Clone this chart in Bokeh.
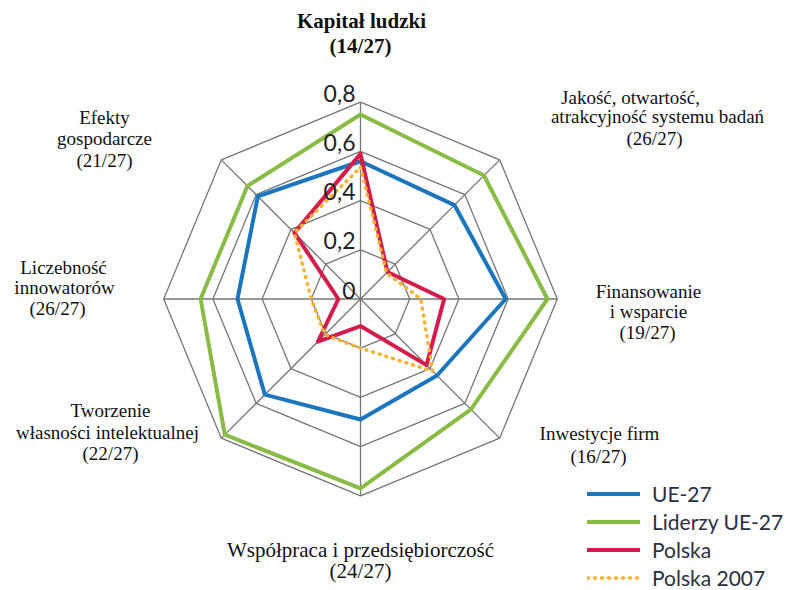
import numpy as np
from bokeh.plotting import figure
from bokeh.models import Range1d, Legend, LegendItem
from bokeh.core.properties import value
from bokeh.embed import file_html
from bokeh.resources import INLINE

# ---------------- data ----------------
categories = [
    "Kapitał ludzki (14/27)",
    "Jakość, otwartość, atrakcyjność systemu badań (26/27)",
    "Finansowanie i wsparcie (19/27)",
    "Inwestycje firm (16/27)",
    "Współpraca i przedsiębiorczość (24/27)",
    "Tworzenie własności intelektualnej (22/27)",
    "Liczebność innowatorów (26/27)",
    "Efekty gospodarcze (21/27)",
]
ue27 = [0.56, 0.54, 0.59, 0.44, 0.49, 0.55, 0.50, 0.59]
liderzy = [0.75, 0.71, 0.76, 0.635, 0.77, 0.78, 0.65, 0.65]
polska = [0.59, 0.155, 0.34, 0.38, 0.11, 0.245, 0.09, 0.38]
polska2007 = [0.535, 0.15, 0.245, 0.415, 0.20, 0.205, 0.20, 0.38]
ring_levels = [0.2, 0.4, 0.6, 0.8]
tick_labels = ["0", "0,2", "0,4", "0,6", "0,8"]
tick_values = [0.0, 0.2, 0.4, 0.6, 0.8]
series_names = ["UE-27", "Liderzy UE-27", "Polska", "Polska 2007"]

# ---------------- layout ----------------
W, H = 786, 590
CX, CY = 360.0, 298.5      # screen position of the centre
S = 246.0                  # pixels per unit

def dx(px):
    return (px - CX) / S

def dy(py):
    return (CY - py) / S

n = len(categories)
ang = np.pi / 2 - np.arange(n) * 2 * np.pi / n

def poly(vals):
    v = np.asarray(vals, dtype=float)
    xs = v * np.cos(ang)
    ys = v * np.sin(ang)
    return list(xs) + [xs[0]], list(ys) + [ys[0]]

p = figure(width=W, height=H, output_backend="svg", toolbar_location=None,
           x_range=Range1d(dx(0), dx(W)), y_range=Range1d(dy(H), dy(0)),
           min_border=0, outline_line_color=None)
p.axis.visible = False
p.xgrid.visible = False
p.ygrid.visible = False
p.background_fill_color = "white"

GRID = "#767676"
for lv in ring_levels:
    xs, ys = poly([lv] * n)
    p.line(xs, ys, line_color=GRID, line_width=1.3)
rmax = max(ring_levels)
p.segment(x0=[0] * n, y0=[0] * n, x1=list(rmax * np.cos(ang)), y1=list(rmax * np.sin(ang)),
          line_color=GRID, line_width=1.3)

BLUE = "#1c76bd"
GREEN = "#88bc45"
RED = "#d41c4c"
ORANGE = "#f5b233"

xs, ys = poly(liderzy)
r_green = p.line(xs, ys, line_color=GREEN, line_width=4, line_join="round", line_cap="round")
xs, ys = poly(ue27)
r_blue = p.line(xs, ys, line_color=BLUE, line_width=4, line_join="round", line_cap="round")
xs, ys = poly(polska)
r_red = p.line(xs, ys, line_color=RED, line_width=4, line_join="round", line_cap="round")
xs, ys = poly(polska2007)
r_or = p.line(xs, ys, line_color=ORANGE, line_width=3.5, line_dash="1 6", line_cap="round")

# tick labels (sit just above each ring, left of the vertical spoke)
p.text(x=[0] * len(tick_values), y=tick_values, text=tick_labels,
       x_offset=-5, y_offset=-9, text_align="right", text_baseline="middle",
       text_font=value("Lato"), text_font_size="23px", text_color="#222222")

# category labels (one entry per printed line; positions = visual centres)
lab_lines = [
    ["Jakość, otwartość,", "atrakcyjność systemu badań", "(26/27)"],
    ["Finansowanie", "i wsparcie", "(19/27)"],
    ["Inwestycje firm", "(16/27)"],
    ["Tworzenie", "własności intelektualnej", "(22/27)"],
    ["Liczebność", "innowatorów", "(26/27)"],
    ["Efekty", "gospodarcze", "(21/27)"],
]
lab_pos = [
    [(630, 97), (657, 116), (654, 138)],
    [(648, 291), (648, 311), (647, 332)],
    [(599, 433), (598, 456)],
    [(110, 410), (107, 432), (110, 453)],
    [(63, 267), (64, 287), (57, 308)],
    [(104, 117), (104, 138), (104, 160)],
]
tx, ty, tt = [], [], []
for lines, pos in zip(lab_lines, lab_pos):
    for t, (px_, py_) in zip(lines, pos):
        tx.append(dx(px_)); ty.append(dy(py_)); tt.append(t)
p.text(x=tx, y=ty, text=tt, text_align="center", text_baseline="middle",
       text_font=value("Liberation Serif"), text_font_size="19px", text_color="#111111")

bottom_lines = ["Współpraca i przedsiębiorczość", "(24/27)"]
bottom_pos = [(360, 549), (360, 570)]
p.text(x=[dx(a) for a, b in bottom_pos], y=[dy(b) for a, b in bottom_pos], text=bottom_lines,
       text_align="center", text_baseline="middle",
       text_font=value("Liberation Serif"), text_font_size="21px", text_color="#111111")

title_lines = ["Kapitał ludzki", "(14/27)"]
title_pos = [(361, 20), (360, 45)]
p.text(x=[dx(a) for a, b in title_pos], y=[dy(b) for a, b in title_pos], text=title_lines,
       text_align="center", text_baseline="middle",
       text_font=value("Liberation Serif"), text_font_size="21px", text_font_style="bold",
       text_color="#111111")

legend = Legend(
    items=[LegendItem(label=series_names[0], renderers=[r_blue]),
           LegendItem(label=series_names[1], renderers=[r_green]),
           LegendItem(label=series_names[2], renderers=[r_red]),
           LegendItem(label=series_names[3], renderers=[r_or])],
    location=(587, 0), orientation="vertical",
    glyph_width=53, glyph_height=25, label_height=25, label_standoff=12, spacing=3,
    padding=0, margin=0, border_line_color=None, background_fill_alpha=0,
    label_text_font="Lato", label_text_font_size="21px", label_text_color="#283040",
    label_text_baseline="middle",
)
p.add_layout(legend, "center")

open("out.html", "w").write(file_html(p, INLINE))
